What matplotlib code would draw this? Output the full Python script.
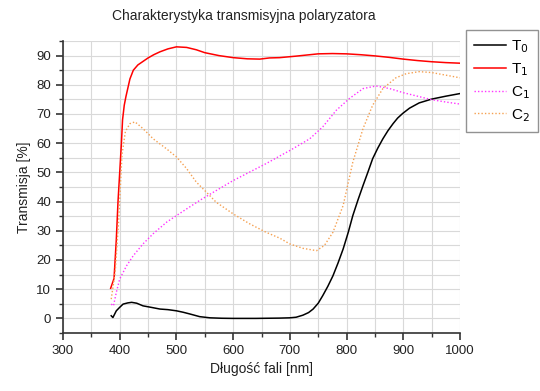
import matplotlib
matplotlib.use("Agg")
import matplotlib.pyplot as plt
from matplotlib.ticker import MultipleLocator

plt.rcParams['font.family'] = ['Liberation Sans', 'DejaVu Sans']

title = "Charakterystyka transmisyjna polaryzatora"
xlabel = "Długość fali [nm]"
ylabel = "Transmisja [%]"

# T0 (black)
t0_wl = [385, 388, 394, 400, 406, 414, 421, 430, 441, 455, 471, 485, 500, 512, 524, 541, 559, 580, 600, 640, 682, 700, 711,
         723, 733, 741, 750, 758, 767, 776, 785, 794, 803, 811, 820, 829, 838, 846, 855, 864, 873, 882, 890, 899, 911, 928, 950, 975, 1000]
t0_val = [0.9, 0.3, 2.6, 3.8, 4.9, 5.3, 5.5, 5.2, 4.3, 3.8, 3.2, 3.0, 2.6, 2.1, 1.5, 0.6, 0.2, 0.05, 0.0, 0.0, 0.1, 0.2, 0.4,
          1.1, 2.0, 3.2, 5.2, 7.8, 11.0, 14.6, 19.0, 23.8, 29.5, 35.2, 40.5, 45.5, 50.3, 54.7, 58.3, 61.5, 64.3, 66.7, 68.6, 70.2, 72.0, 73.8, 75.1, 76.1, 77.0]

# T1 (red)
t1_wl = [384, 390, 394, 397, 400, 403, 405, 408, 411, 418, 424, 432, 441, 450, 460, 471, 485, 500, 518, 535, 550, 575, 600, 625, 647, 664, 682,
         710, 750, 775, 800, 825, 850, 875, 900, 925, 950, 975, 1000]
t1_val = [10.3, 13.7, 27, 40, 50, 60, 68, 73, 76, 82, 85, 86.8, 88, 89.2, 90.3, 91.3, 92.3, 93, 92.8, 92.0, 91, 90.0, 89.3, 88.9, 88.8, 89.2, 89.3,
          89.8, 90.6, 90.7, 90.6, 90.3, 89.9, 89.4, 88.8, 88.3, 87.9, 87.6, 87.4]

# C1 (magenta, dotted)
c1_wl = [385, 389, 394, 400, 412, 424, 441, 459, 483, 500, 518, 541, 565, 600, 629, 658, 682, 700, 735, 758, 782, 805, 829, 852, 876, 900, 925, 950, 975, 1000]
c1_val = [4.9, 4.3, 8.9, 13.5, 18, 21.5, 25.5, 29, 33, 35.2, 37.5, 40.4, 43.2, 47.2, 50.1, 53, 55.6, 57.5, 61.5, 65.6, 71.3, 75.3, 78.7, 79.6, 78.7, 77.3, 76.1, 74.9, 74.1, 73.4]

# C2 (orange, dotted)
c2_wl = [385, 392, 398, 404, 410, 418, 427, 441, 459, 483, 500, 518, 535, 553, 570, 600, 629, 658, 682, 700, 723, 747, 761, 776, 794,
         811, 829, 846, 864, 887, 905, 928, 950, 975, 1000]
c2_val = [6.6, 15.8, 33, 56, 64, 66.7, 67.3, 65, 61.5, 58, 55.3, 51.3, 46.7, 43.2, 39.8, 35.8, 32.4, 29.5, 27.5, 25.5, 24, 23.2, 25, 29.5, 38.7,
          53.5, 65, 73, 78.7, 82.4, 83.8, 84.5, 84.2, 83.3, 82.4]

fig = plt.figure(figsize=(5.4, 3.91), dpi=100)
ax = fig.add_axes([63/540, 1-333/391, (460-63)/540, (333-41)/391])

ax.plot(t0_wl, t0_val, color='black', lw=1.1, label='T$_0$')
ax.plot(t1_wl, t1_val, color='#ff0000', lw=1.1, label='T$_1$')
ax.plot(c1_wl, c1_val, color='#ff33ff', lw=1.0, ls=(0, (1, 1.5)), label='C$_1$')
ax.plot(c2_wl, c2_val, color='#f5a050', lw=1.0, ls=(0, (1, 1.5)), label='C$_2$')

ax.set_xlim(300, 1000)
ax.set_ylim(-5, 95)
ax.xaxis.set_major_locator(MultipleLocator(100))
ax.xaxis.set_minor_locator(MultipleLocator(50))
ax.yaxis.set_major_locator(MultipleLocator(10))
ax.yaxis.set_minor_locator(MultipleLocator(5))
ax.set_yticks(range(0, 91, 10))
ax.grid(True, which='both', color='#d9d9d9', lw=0.8)
ax.set_axisbelow(True)
for s in ['top', 'right']:
    ax.spines[s].set_visible(False)
for s in ['left', 'bottom']:
    ax.spines[s].set_color('#333333')
    ax.spines[s].set_linewidth(1.2)
ax.tick_params(which='major', direction='out', length=5, width=1.2, color='#333333', labelsize=9.5, labelcolor='#222222')
ax.tick_params(which='minor', direction='out', length=3, width=1.0, color='#333333')

ax.set_xlabel(xlabel, fontsize=10, color='#222222', labelpad=4)
ax.set_ylabel(ylabel, fontsize=10, color='#222222', labelpad=4)
fig.text(244/540, 1-16/391, title, fontsize=10, ha='center', va='center', color='#222222')

leg = fig.legend(loc='upper left', bbox_to_anchor=(466/540, 1-30/391), frameon=True, fancybox=False,
                 edgecolor='#777777', fontsize=11, handlelength=2.1, borderpad=0.55, labelspacing=0.4,
                 handletextpad=0.3, borderaxespad=0)
leg.get_frame().set_linewidth(1.0)

fig.savefig('out.png', dpi=100)
